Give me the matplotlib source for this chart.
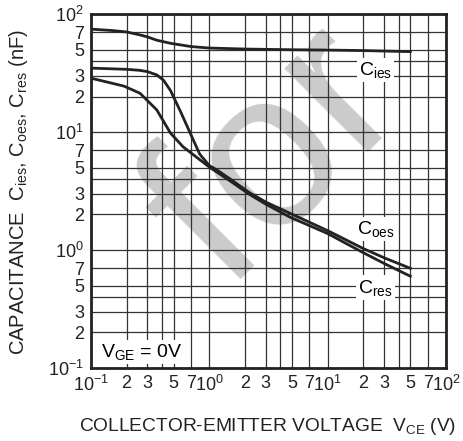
import matplotlib
matplotlib.use('Agg')
import matplotlib.pyplot as plt

plt.rcParams['font.family'] = ['Liberation Sans', 'DejaVu Sans']
plt.rcParams['mathtext.fontset'] = 'custom'
plt.rcParams['mathtext.rm'] = 'Liberation Sans'
plt.rcParams['mathtext.it'] = 'Liberation Sans'

# capacitance curves (V, nF)
vce_ies = [0.1, 0.15, 0.2, 0.26, 0.3, 0.36, 0.47, 0.7, 1.0, 2, 5, 10, 20, 50]
cies = [74.5, 72.5, 70.5, 66.5, 64, 60, 56.5, 53, 51.5, 50.5, 49.8, 49.5, 49, 48]

vce_oes = [0.1, 0.2, 0.26, 0.3, 0.36, 0.41, 0.47, 0.57, 0.69, 0.83, 1.0, 1.15, 1.5, 2.2, 3, 4.8, 10, 20, 30, 50]
coes = [34.8, 34, 33.3, 32.5, 30.5, 27.5, 22.5, 15, 9.8, 6.5, 5.2, 4.8, 4.0, 3.05, 2.55, 2.05, 1.46, 1.03, 0.86, 0.70]

vce_res = [0.1, 0.19, 0.26, 0.36, 0.47, 0.6, 0.8, 1.0, 1.5, 2.2, 3, 4.8, 10, 20, 30, 50]
cres = [28.6, 24.5, 21.3, 15.4, 9.8, 7.5, 6.0, 5.05, 3.85, 2.95, 2.45, 1.9, 1.38, 0.95, 0.77, 0.60]

tick_vals = [0.1, 0.2, 0.3, 0.5, 0.7, 1, 2, 3, 5, 7, 10, 20, 30, 50, 70, 100]
tick_text = [r'10$^{-1}$', '2', '3', '5', '7', r'10$^{0}$', '2', '3', '5', '7',
             r'10$^{1}$', '2', '3', '5', '7', r'10$^{2}$']
grid_vals = [0.1, 0.2, 0.3, 0.4, 0.5, 0.7, 1, 2, 3, 4, 5, 7, 10, 20, 30, 40, 50, 70, 100]

fig = plt.figure(figsize=(4.64, 4.41), dpi=100)
ax = fig.add_axes([0.196, 0.1655, 0.765, 0.8027])
ax.set_facecolor('none')

# grey watermark behind the chart
fig.text(0.685, 0.55, 'for', fontsize=160, color='#cbcbcb', rotation=45,
         ha='center', va='baseline', rotation_mode='anchor', zorder=-10)

ax.set_xscale('log')
ax.set_yscale('log')
ax.set_xlim(0.1, 100)
ax.set_ylim(0.1, 100)

for g in grid_vals:
    ax.axvline(g, color='#333333', lw=0.9, zorder=1)
    ax.axhline(g, color='#333333', lw=0.9, zorder=1)

ax.plot(vce_ies, cies, color='#222222', lw=2, zorder=3)
ax.plot(vce_oes, coes, color='#222222', lw=2, zorder=3)
ax.plot(vce_res, cres, color='#222222', lw=2, zorder=3)

box = dict(facecolor='white', edgecolor='none', pad=1.5)
ax.text(25.5, 33.5, r'C$_{\mathregular{ies}}$', fontsize=14, ha='center', va='center', bbox=box, zorder=4)
ax.text(25.5, 1.5, r'C$_{\mathregular{oes}}$', fontsize=14, ha='center', va='center', bbox=box, zorder=4)
ax.text(25.5, 0.48, r'C$_{\mathregular{res}}$', fontsize=14, ha='center', va='center', bbox=box, zorder=4)
ax.text(0.27, 0.137, r'V$_{\mathregular{GE}}$ = 0V', fontsize=14, ha='center', va='center', bbox=box, zorder=4)

ax.set_xticks(tick_vals)
ax.set_xticklabels(tick_text)
ax.set_yticks(tick_vals)
ax.set_yticklabels(tick_text)
ax.minorticks_off()
ax.tick_params(length=0, labelsize=13, colors='#222222')
ax.tick_params(axis='x', pad=5)
ax.tick_params(axis='y', pad=5)

for s in ax.spines.values():
    s.set_linewidth(2)
    s.set_color('#222222')
    s.set_zorder(5)

fig.text(0.577, 0.032, r'COLLECTOR-EMITTER VOLTAGE  V$_{\mathregular{CE}}$ (V)', fontsize=13.8,
         color='#222222', ha='center', va='center')
fig.text(0.04, 0.565, r'CAPACITANCE  C$_{\mathregular{ies}}$, C$_{\mathregular{oes}}$, C$_{\mathregular{res}}$ (nF)',
         fontsize=14.5, color='#222222', ha='center', va='center', rotation=90)

fig.savefig('out.png', dpi=100)
